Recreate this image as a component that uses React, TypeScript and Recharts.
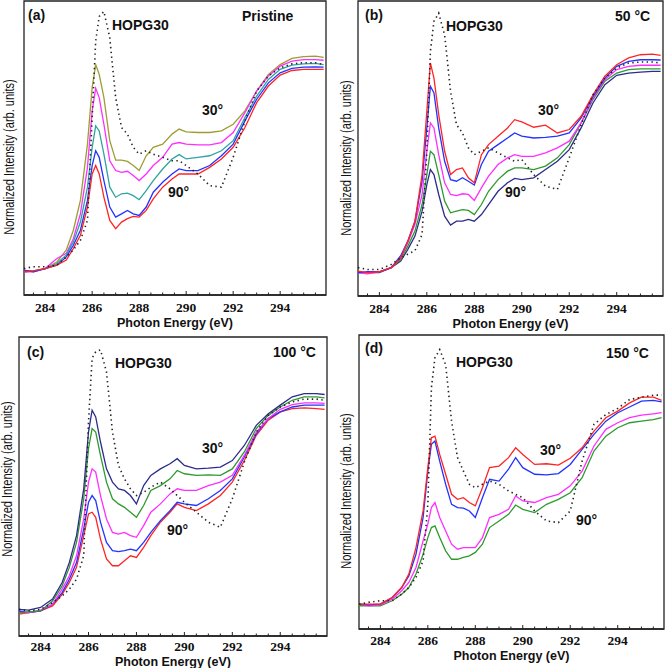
import React from 'react';
import { LineChart, Line, XAxis, YAxis, ReferenceArea, Label } from 'recharts';

// Photon energy grid (eV) shared by all spectra
const ENERGY = [283.1, 283.5, 284.0, 284.5, 284.9, 285.2, 285.5, 285.8, 286.0, 286.15, 286.3, 286.5, 286.75, 287.0, 287.25, 287.5, 287.75, 288.0, 288.3, 288.6, 289.0, 289.4, 289.7, 290.0, 290.5, 291.0, 291.5, 292.0, 292.5, 293.0, 293.5, 294.0, 294.5, 295.0, 295.5, 295.85];

const X_TICKS = [283.5, 284, 284.5, 285, 285.5, 286, 286.5, 287, 287.5, 288, 288.5, 289, 289.5, 290, 290.5, 291, 291.5, 292, 292.5, 293, 293.5, 294, 294.5, 295, 295.5];
const X_LABELS = [284, 286, 288, 290, 292, 294];
const Y_TICKS = [0, 1, 2, 3, 4, 5, 6, 7, 8, 9, 10, 11, 12];

// (a) Pristine
const A_OLIVE = [0.96, 0.96, 1.06, 1.35, 1.88, 2.74, 4.05, 6.52, 9.0, 10.01, 9.58, 8.56, 6.67, 5.82, 5.82, 5.76, 5.58, 5.36, 6.01, 6.38, 6.52, 6.96, 7.18, 7.06, 7.03, 7.03, 7.1, 7.39, 7.98, 8.85, 9.58, 10.01, 10.28, 10.36, 10.38, 10.33];
const A_MAGENTA = [0.92, 0.92, 1.06, 1.5, 1.73, 2.37, 3.46, 5.5, 7.98, 8.97, 8.56, 7.39, 5.79, 5.36, 5.28, 5.33, 5.14, 4.92, 5.21, 5.58, 5.94, 6.52, 6.59, 6.52, 6.49, 6.49, 6.59, 7.03, 7.9, 8.85, 9.51, 9.94, 10.16, 10.23, 10.23, 10.2];
const A_TEAL = [0.92, 0.96, 1.06, 1.28, 1.66, 2.23, 3.1, 4.63, 6.38, 7.32, 7.1, 6.08, 4.63, 4.19, 4.34, 4.37, 4.26, 4.08, 4.48, 4.92, 5.43, 5.87, 6.06, 5.87, 5.94, 6.01, 6.23, 6.67, 7.69, 8.63, 9.36, 9.8, 9.99, 10.04, 10.06, 10.01];
const A_BLUE = [0.99, 0.92, 1.06, 1.21, 1.57, 2.08, 2.74, 4.05, 5.58, 6.23, 5.94, 4.92, 3.76, 3.32, 3.46, 3.61, 3.46, 3.39, 3.76, 4.41, 4.85, 5.21, 5.43, 5.36, 5.36, 5.58, 6.01, 6.52, 7.54, 8.49, 9.21, 9.65, 9.84, 9.9, 9.91, 9.9];
const A_RED = [0.92, 0.96, 1.06, 1.21, 1.43, 1.94, 2.52, 3.76, 5.21, 5.58, 5.21, 4.19, 3.17, 2.81, 3.1, 3.25, 3.35, 3.32, 3.61, 4.12, 4.63, 4.99, 5.21, 5.21, 5.21, 5.5, 5.87, 6.38, 7.25, 8.34, 9.07, 9.55, 9.75, 9.8, 9.8, 9.8];
const A_HOPG = [1.06, 1.14, 1.14, 1.21, 1.57, 1.88, 2.3, 3.17, 7.69, 11.03, 12.12, 12.34, 11.18, 8.56, 7.25, 6.96, 6.38, 6.08, 6.23, 6.08, 5.94, 5.79, 5.79, 5.58, 5.21, 4.7, 4.63, 5.94, 7.54, 8.85, 9.51, 9.87, 10.04, 10.09, 10.09, 10.01];

// (b) 50 °C
const B_RED = [0.99, 0.92, 0.96, 1.14, 1.57, 2.3, 3.17, 5.21, 7.98, 10.09, 9.43, 7.83, 6.23, 5.21, 5.43, 5.5, 5.07, 4.85, 6.08, 6.52, 6.89, 7.25, 7.61, 7.51, 7.28, 7.37, 7.03, 7.18, 7.76, 8.7, 9.51, 10.01, 10.31, 10.45, 10.48, 10.42];
const B_BLUE = [0.92, 0.96, 0.96, 1.14, 1.66, 2.3, 3.17, 4.92, 7.25, 9.07, 8.78, 7.25, 5.79, 4.99, 4.92, 5.07, 4.92, 4.75, 5.65, 6.23, 6.52, 6.81, 7.03, 6.89, 6.81, 6.84, 6.89, 7.03, 7.69, 8.63, 9.43, 9.94, 10.16, 10.23, 10.23, 10.22];
const B_MAGENTA = [0.92, 0.87, 0.96, 1.14, 1.57, 2.23, 3.03, 4.34, 6.23, 7.47, 7.25, 6.08, 4.85, 4.34, 4.29, 4.37, 4.34, 4.08, 4.63, 5.14, 5.65, 5.94, 6.08, 6.01, 6.01, 6.16, 6.38, 6.67, 7.47, 8.56, 9.36, 9.8, 9.94, 9.99, 9.99, 9.99];
const B_GREEN = [0.92, 0.92, 0.96, 1.14, 1.5, 2.08, 2.74, 3.9, 5.21, 6.23, 6.08, 5.21, 4.05, 3.54, 3.61, 3.68, 3.64, 3.46, 3.9, 4.48, 4.99, 5.36, 5.5, 5.5, 5.43, 5.58, 5.94, 6.52, 7.47, 8.49, 9.29, 9.65, 9.8, 9.83, 9.83, 9.83];
const B_NAVY = [0.92, 0.92, 0.92, 1.14, 1.43, 1.94, 2.52, 3.61, 4.77, 5.43, 5.21, 4.34, 3.39, 3.0, 3.17, 3.17, 3.25, 3.17, 3.46, 3.9, 4.48, 4.85, 5.04, 4.99, 5.07, 5.43, 5.79, 6.3, 7.25, 8.34, 9.14, 9.55, 9.65, 9.69, 9.72, 9.72];
const B_HOPG = [1.14, 1.06, 1.06, 1.28, 1.57, 1.73, 1.88, 2.59, 6.23, 10.6, 11.91, 12.27, 11.32, 8.85, 7.39, 7.03, 6.38, 6.08, 6.23, 6.38, 6.16, 5.94, 5.79, 5.87, 5.21, 4.7, 4.56, 5.94, 7.39, 8.7, 9.43, 9.87, 10.09, 10.13, 10.13, 10.09];

// (c) 100 °C
const C_NAVY = [1.05, 1.02, 1.13, 1.49, 2.21, 3.07, 4.23, 6.25, 8.7, 9.64, 9.35, 8.27, 7.11, 6.54, 6.25, 6.18, 5.96, 5.6, 6.39, 6.83, 7.11, 7.33, 7.55, 7.26, 7.11, 7.14, 7.19, 7.47, 8.12, 8.99, 9.49, 9.86, 10.22, 10.36, 10.36, 10.32];
const C_GREEN = [0.91, 0.94, 0.98, 1.41, 2.06, 2.86, 3.94, 5.82, 7.98, 8.85, 8.7, 7.69, 6.54, 5.82, 5.6, 5.45, 5.24, 5.02, 5.53, 6.18, 6.39, 6.68, 7.04, 6.9, 6.83, 6.85, 6.83, 7.11, 7.84, 8.85, 9.42, 9.78, 10.07, 10.22, 10.22, 10.17];
const C_MAGENTA = [0.91, 0.91, 1.02, 1.27, 1.92, 2.5, 3.36, 4.95, 6.54, 7.11, 6.97, 5.96, 4.95, 4.37, 4.3, 4.37, 4.23, 4.16, 4.66, 5.24, 5.6, 6.03, 6.25, 6.18, 6.18, 6.39, 6.54, 6.83, 7.69, 8.7, 9.28, 9.68, 9.88, 9.96, 9.96, 9.94];
const C_BLUE = [0.98, 0.91, 0.98, 1.27, 1.77, 2.35, 3.07, 4.52, 5.67, 5.96, 5.74, 4.81, 3.94, 3.58, 3.54, 3.58, 3.65, 3.58, 3.94, 4.37, 4.88, 5.31, 5.67, 5.6, 5.53, 5.82, 6.18, 6.68, 7.62, 8.63, 9.28, 9.57, 9.78, 9.86, 9.86, 9.86];
const C_RED = [0.84, 0.91, 0.98, 1.2, 1.7, 2.21, 2.86, 4.23, 5.17, 5.24, 5.02, 4.08, 3.22, 2.93, 2.93, 3.15, 3.36, 3.29, 3.72, 4.23, 4.81, 5.24, 5.6, 5.45, 5.31, 5.6, 5.96, 6.54, 7.47, 8.56, 9.21, 9.57, 9.71, 9.74, 9.71, 9.68];
const C_HOPG = [1.05, 0.98, 1.05, 1.34, 1.63, 1.92, 2.35, 3.36, 9.13, 11.88, 12.16, 12.24, 11.3, 8.7, 7.26, 6.68, 6.25, 5.96, 6.1, 6.32, 6.54, 6.25, 5.96, 5.67, 5.24, 4.81, 4.59, 5.82, 7.4, 8.7, 9.42, 9.78, 10.0, 10.12, 10.12, 10.07];

// (d) 150 °C
const D_RED = [0.99, 0.99, 0.99, 1.28, 1.72, 2.31, 3.47, 5.08, 6.98, 8.29, 8.36, 7.56, 6.69, 5.81, 5.59, 5.66, 5.45, 5.3, 6.1, 6.98, 7.05, 7.42, 7.85, 7.56, 7.12, 7.15, 7.09, 7.39, 7.85, 8.58, 9.17, 9.46, 9.82, 10.07, 10.07, 9.93];
const D_BLUE = [0.99, 0.96, 0.99, 1.28, 1.72, 2.23, 3.18, 4.79, 6.83, 8.0, 8.15, 7.27, 6.25, 5.37, 5.23, 5.2, 5.08, 4.79, 5.66, 6.47, 6.39, 6.91, 7.42, 6.98, 6.69, 6.66, 6.72, 7.12, 7.78, 8.44, 9.02, 9.39, 9.64, 9.9, 9.93, 9.87];
const D_MAGENTA = [0.99, 0.92, 0.96, 1.21, 1.58, 1.94, 2.6, 3.77, 4.5, 5.23, 5.45, 4.79, 4.2, 3.62, 3.4, 3.47, 3.47, 3.47, 3.91, 4.79, 4.93, 5.15, 5.74, 5.52, 5.45, 5.66, 5.81, 6.18, 6.83, 7.93, 8.66, 8.95, 9.17, 9.28, 9.34, 9.39];
const D_GREEN = [0.92, 0.92, 0.92, 1.14, 1.43, 1.72, 2.31, 3.18, 3.91, 4.35, 4.42, 3.91, 3.33, 2.96, 2.96, 3.04, 3.11, 3.26, 3.62, 4.35, 4.64, 4.93, 5.34, 5.15, 5.01, 5.37, 5.59, 5.88, 6.54, 7.71, 8.36, 8.73, 8.95, 9.02, 9.09, 9.17];
const D_HOPG = [0.99, 1.07, 1.14, 1.14, 1.43, 1.72, 2.16, 2.89, 5.37, 10.48, 11.8, 12.16, 11.5, 9.02, 7.42, 6.83, 6.25, 6.1, 6.25, 6.39, 6.25, 5.96, 5.81, 5.66, 5.08, 4.64, 4.57, 5.08, 7.27, 8.88, 9.31, 9.58, 9.97, 10.07, 10.16, 10.16];

const SERIF = '"Liberation Serif", "Times New Roman", serif';
const SANS = '"Liberation Sans", Arial, sans-serif';

const OLIVE = '#9e9c34';
const MAGENTA = '#ff2eff';
const TEAL = '#2ea3a0';
const BLUE = '#2233ff';
const RED = '#ff2424';
const GREEN = '#2e9a2e';
const NAVY = '#2c2c8e';

const X_DOMAIN: [number, number] = [283.1, 295.95];
const Y_DOMAIN: [number, number] = [-0.1, 12.8];
const AXIS_H = 38;

const XTick = (props: any) => {
  const { x, y, payload, labelDy } = props;
  const v = payload.value as number;
  const labeled = X_LABELS.indexOf(v) >= 0;
  return (
    <g>
      <line x1={x} x2={x} y1={y} y2={y - (labeled ? 4 : 2.5)} stroke="#222" strokeWidth={1} />
      {labeled && (
        <text x={x} y={y + (labelDy ?? 13)} textAnchor="middle" dominantBaseline="central" fontFamily={SERIF} fontWeight="bold" fontSize={13.5} fill="#111">
          {v}
        </text>
      )}
    </g>
  );
};

const YTick = (props: any) => {
  const { x, y } = props;
  return <line x1={x} x2={x + 3} y1={y} y2={y} stroke="#222" strokeWidth={1} />;
};

type Series = { key: string; values: number[]; color: string };
type Layout = { L: number; R: number; T: number; B: number; labelDy: number; titleBase: number };
type Note = { text: string; x: number; y: number };

function Panel({ layout, series, hopg }: { layout: Layout; series: Series[]; hopg: number[] }) {
  const rows = ENERGY.map((e, i) => {
    const r: Record<string, number> = { e, hopg: hopg[i] };
    series.forEach((s) => {
      r[s.key] = s.values[i];
    });
    return r;
  });
  const w = layout.R - layout.L;
  const h = layout.B - layout.T;
  return (
    <div style={{ position: 'absolute', left: layout.L - 2, top: layout.T - 2 }}>
      <LineChart width={w + 4} height={h + 2 + AXIS_H} data={rows} margin={{ top: 2, right: 2, bottom: 0, left: 2 }}>
        <XAxis
          dataKey="e"
          type="number"
          domain={X_DOMAIN}
          allowDataOverflow
          ticks={X_TICKS}
          interval={0}
          tick={<XTick labelDy={layout.labelDy} />}
          tickLine={false}
          tickSize={0}
          tickMargin={0}
          height={AXIS_H}
          axisLine={{ stroke: '#222', strokeWidth: 1.3 }}
        >
          <Label
            value="Photon Energy (eV)"
            position="insideBottom"
            offset={AXIS_H - layout.titleBase}
            style={{ fontFamily: SANS, fontWeight: 'bold', fontSize: 12.5, fill: '#111' }}
          />
        </XAxis>
        <YAxis
          type="number"
          domain={Y_DOMAIN}
          allowDataOverflow
          ticks={Y_TICKS}
          interval={0}
          width={0}
          tick={<YTick />}
          tickLine={false}
          tickSize={0}
          tickMargin={0}
          axisLine={{ stroke: '#222', strokeWidth: 1.3 }}
        />
        <ReferenceArea x1={X_DOMAIN[0]} x2={X_DOMAIN[1]} y1={Y_DOMAIN[0]} y2={Y_DOMAIN[1]} fill="none" stroke="#222" strokeWidth={1.3} ifOverflow="visible" />
        {series.map((s) => (
          <Line key={s.key} type="linear" dataKey={s.key} stroke={s.color} strokeWidth={1.3} dot={false} isAnimationActive={false} />
        ))}
        <Line type="linear" dataKey="hopg" stroke="#222" strokeWidth={1.6} strokeDasharray="1.4 3.4" dot={false} isAnimationActive={false} />
      </LineChart>
    </div>
  );
}

const PANELS: { layout: Layout; series: Series[]; hopg: number[]; notes: Note[]; ylab: { x: number; y: number } }[] = [
  {
    layout: { L: 24, R: 326, T: 1, B: 295, labelDy: 12, titleBase: 32 },
    series: [
      { key: 'olive', values: A_OLIVE, color: OLIVE },
      { key: 'magenta', values: A_MAGENTA, color: MAGENTA },
      { key: 'teal', values: A_TEAL, color: TEAL },
      { key: 'blue', values: A_BLUE, color: BLUE },
      { key: 'red', values: A_RED, color: RED },
    ],
    hopg: A_HOPG,
    notes: [
      { text: '(a)', x: 28, y: 15 },
      { text: 'HOPG30', x: 112, y: 25 },
      { text: 'Pristine', x: 242, y: 16 },
      { text: '30°', x: 202, y: 110 },
      { text: '90°', x: 168, y: 192 },
    ],
    ylab: { x: 9, y: 157 },
  },
  {
    layout: { L: 358, R: 663, T: 1, B: 296, labelDy: 12, titleBase: 32 },
    series: [
      { key: 'navy', values: B_NAVY, color: NAVY },
      { key: 'green', values: B_GREEN, color: GREEN },
      { key: 'magenta', values: B_MAGENTA, color: MAGENTA },
      { key: 'blue', values: B_BLUE, color: BLUE },
      { key: 'red', values: B_RED, color: RED },
    ],
    hopg: B_HOPG,
    notes: [
      { text: '(b)', x: 365, y: 15 },
      { text: 'HOPG30', x: 446, y: 26 },
      { text: '50 °C', x: 615, y: 16 },
      { text: '30°', x: 538, y: 110 },
      { text: '90°', x: 505, y: 192 },
    ],
    ylab: { x: 346, y: 158 },
  },
  {
    layout: { L: 19, R: 327, T: 337, B: 636, labelDy: 10, titleBase: 30 },
    series: [
      { key: 'red', values: C_RED, color: RED },
      { key: 'blue', values: C_BLUE, color: BLUE },
      { key: 'magenta', values: C_MAGENTA, color: MAGENTA },
      { key: 'green', values: C_GREEN, color: GREEN },
      { key: 'navy', values: C_NAVY, color: NAVY },
    ],
    hopg: C_HOPG,
    notes: [
      { text: '(c)', x: 27, y: 352 },
      { text: 'HOPG30', x: 115, y: 363 },
      { text: '100 °C', x: 273, y: 352 },
      { text: '30°', x: 202, y: 448 },
      { text: '90°', x: 167, y: 530 },
    ],
    ylab: { x: 7, y: 479 },
  },
  {
    layout: { L: 359, R: 664, T: 335, B: 629, labelDy: 11, titleBase: 31 },
    series: [
      { key: 'green', values: D_GREEN, color: GREEN },
      { key: 'magenta', values: D_MAGENTA, color: MAGENTA },
      { key: 'blue', values: D_BLUE, color: BLUE },
      { key: 'red', values: D_RED, color: RED },
    ],
    hopg: D_HOPG,
    notes: [
      { text: '(d)', x: 365, y: 348 },
      { text: 'HOPG30', x: 456, y: 362 },
      { text: '150 °C', x: 606, y: 353 },
      { text: '30°', x: 540, y: 450 },
      { text: '90°', x: 576, y: 520 },
    ],
    ylab: { x: 346, y: 491 },
  },
];

export default function App() {
  return (
    <div style={{ position: 'absolute', left: 0, top: 0, width: 666, height: 668, background: '#fff', overflow: 'hidden' }}>
      {PANELS.map((p, i) => (
        <React.Fragment key={i}>
          <Panel layout={p.layout} series={p.series} hopg={p.hopg} />
          {p.notes.map((n, j) => (
            <div
              key={j}
              style={{
                position: 'absolute',
                left: n.x,
                top: n.y - 8,
                fontFamily: SANS,
                fontWeight: 'bold',
                fontSize: 14,
                lineHeight: '16px',
                whiteSpace: 'nowrap',
                color: '#111',
              }}
            >
              {n.text}
            </div>
          ))}
          <div
            style={{
              position: 'absolute',
              left: p.ylab.x - 120,
              top: p.ylab.y - 8,
              width: 240,
              height: 16,
              lineHeight: '16px',
              textAlign: 'center',
              fontFamily: SANS,
              fontSize: 14.5,
              color: '#111',
              whiteSpace: 'nowrap',
              transform: 'rotate(-90deg) scaleX(0.76)',
            }}
          >
            Normalized Intensity (arb. units)
          </div>
        </React.Fragment>
      ))}
    </div>
  );
}
